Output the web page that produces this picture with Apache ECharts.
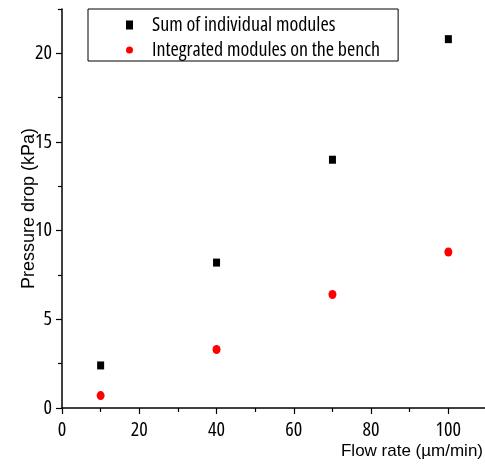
<!DOCTYPE html>
<html>
<head>
<meta charset="utf-8">
<script src="https://cdn.jsdelivr.net/npm/echarts@6/dist/echarts.min.js"></script>
<style>
    html, body { margin: 0; padding: 0; background: #fff; }
    #main { width: 485px; height: 465px; }
</style>
</head>
<body>
<div id="main"></div>
<script>
var flowRate = [10, 40, 70, 100];
var sumModules = [2.4, 8.2, 14.0, 20.8];
var benchModules = [0.7, 3.3, 6.4, 8.8];
var xTicks = [0, 20, 40, 60, 80, 100];
var xMinorTicks = [10, 30, 50, 70, 90];
var yTicks = [0, 5, 10, 15, 20];
var yMinorTicks = [2.5, 7.5, 12.5, 17.5, 22.5];
var seriesNames = ['Sum of individual modules', 'Integrated modules on the bench'];

~function () {
    var myChart = echarts.init(document.getElementById('main'));
    // Open Sans has a width axis; the stretch keyword goes through fontWeight into the canvas font string
    var openSans = "'Open Sans', 'Liberation Sans', sans-serif";
    var regular = "'Liberation Sans', Arial, sans-serif";
    var ellipse = 'path://M0 0.5A0.5 0.5 0 1 1 1 0.5A0.5 0.5 0 1 1 0 0.5Z';
    var tickFont = {fontFamily: openSans, fontWeight: 'condensed', fontSize: 20, color: '#000'};

    function pairs(xs, ys) {
        return xs.map(function (x, i) { return [x, ys[i]]; });
    }

    var axisLine = {show: true, lineStyle: {color: '#000', width: 1.5}};
    var tickStyle = {color: '#000', width: 1.2};
    var option = {
        animation: false,
        grid: {left: 62, right: -2, top: 9, bottom: 57, outerBoundsMode: 'none'},
        legend: {
            orient: 'vertical',
            left: 88,
            top: 9,
            padding: [6, 18, 1, 38],
            itemGap: 5,
            itemWidth: 7,
            itemHeight: 9,
            borderColor: '#000',
            borderWidth: 1,
            borderRadius: 0,
            textStyle: {
                fontFamily: openSans, fontWeight: 'condensed', fontSize: 20,
                color: '#000', padding: [0, 0, 0, 14]
            },
            data: [
                {name: seriesNames[0], icon: 'rect'},
                {name: seriesNames[1], icon: 'circle'}
            ]
        },
        xAxis: [
            {
                type: 'value',
                min: 0,
                max: 110,
                name: 'Flow rate (\u00b5m/min)',
                nameLocation: 'end',
                nameGap: -4,
                nameMoveOverlap: false,
                nameTextStyle: {
                    fontFamily: regular, fontSize: 17, color: '#000',
                    align: 'right', verticalAlign: 'top', padding: [35, 0, 0, 0]
                },
                axisLine: axisLine,
                axisTick: {show: true, customValues: xTicks, length: 6, lineStyle: tickStyle},
                axisLabel: echarts.util.extend({customValues: xTicks, margin: 12}, tickFont),
                splitLine: {show: false}
            },
            {
                type: 'value',
                min: 0,
                max: 110,
                position: 'bottom',
                axisLine: {show: false},
                axisTick: {show: true, customValues: xMinorTicks, length: 4, lineStyle: tickStyle},
                axisLabel: {show: false},
                splitLine: {show: false}
            }
        ],
        yAxis: [
            {
                type: 'value',
                min: 0,
                max: 22.5,
                name: 'Pressure drop (kPa)',
                nameLocation: 'middle',
                nameGap: 24,
                nameMoveOverlap: false,
                nameTextStyle: {fontFamily: regular, fontSize: 18, color: '#000'},
                axisLine: axisLine,
                axisTick: {show: true, customValues: yTicks, length: 6, lineStyle: tickStyle},
                axisLabel: echarts.util.extend({customValues: yTicks, margin: 10}, tickFont),
                splitLine: {show: false}
            },
            {
                type: 'value',
                min: 0,
                max: 22.5,
                position: 'left',
                axisLine: {show: false},
                axisTick: {show: true, customValues: yMinorTicks, length: 4, lineStyle: tickStyle},
                axisLabel: {show: false},
                splitLine: {show: false}
            }
        ],
        series: [
            {
                name: seriesNames[0],
                type: 'scatter',
                symbol: 'rect',
                symbolSize: [7, 8],
                itemStyle: {color: '#000', opacity: 1},
                data: pairs(flowRate, sumModules)
            },
            {
                name: seriesNames[1],
                type: 'scatter',
                symbol: ellipse,
                symbolKeepAspect: false,
                symbolSize: [8, 9],
                itemStyle: {color: '#ff0000', opacity: 1},
                data: pairs(flowRate, benchModules)
            }
        ]
    };
    myChart.setOption(option);
}();
</script>
</body>
</html>
